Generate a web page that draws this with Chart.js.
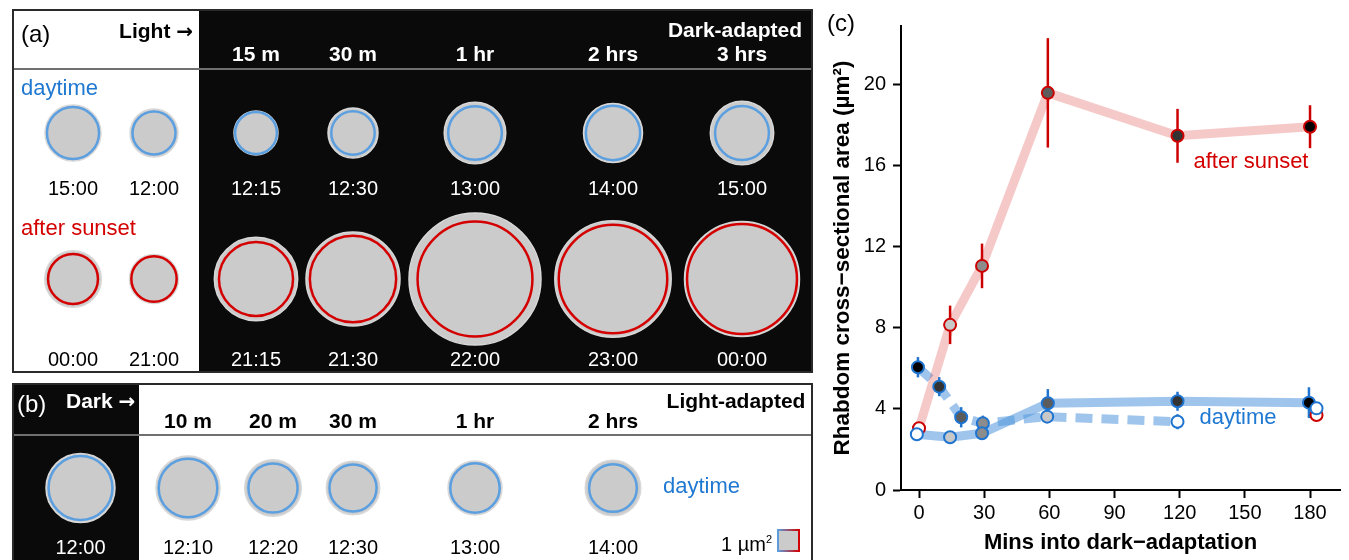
<!DOCTYPE html>
<html>
<head>
<meta charset="utf-8">
<title>Rhabdom cross-sectional area</title>
<script src="https://cdn.jsdelivr.net/npm/chart.js@4.4.1/dist/chart.umd.min.js"></script>
<style>
  body { margin: 0; background: #fff; }
  #page { position: relative; width: 1349px; height: 560px; overflow: hidden; font-family: "Liberation Sans", Arial, sans-serif; }
  .abs { position: absolute; box-sizing: border-box; }
  .t { position: absolute; white-space: nowrap; line-height: 1; color: #000; }
  .hd { font-weight: bold; font-size: 21px; }
  .tm { font-size: 20px; }
  .tag { font-size: 24px; }
  .grp { font-size: 22px; }
  .w { color: #fff; }
  .blue { color: #1f78d1; }
  .red { color: #d40000; }
  .arr { font-family: "DejaVu Sans", sans-serif; font-weight: bold; font-size: 20px; }
  canvas { position: absolute; }
</style>
</head>
<body>
<div id="page">
  <!-- panel (a) frame -->
  <div class="abs" style="left:12px; top:9px; width:801px; height:364px; border:2px solid #2a2a2a; background:#fff;"></div>
  <div class="abs" style="left:199px; top:11px; width:612px; height:360px; background:#0a0a0a;"></div>
  <div class="abs" style="left:14px; top:68px; width:797px; height:2px; background:#707070;"></div>
  <!-- panel (b) frame -->
  <div class="abs" style="left:12px; top:383px; width:801px; height:200px; border:2px solid #2a2a2a; background:#fff;"></div>
  <div class="abs" style="left:14px; top:385px; width:125px; height:200px; background:#0a0a0a;"></div>
  <div class="abs" style="left:14px; top:434px; width:797px; height:2px; background:#707070;"></div>
  <!-- 1 µm² scale square -->
  <div class="abs" style="left:777px; top:529px; width:23px; height:23px; background:#cbcbcb; border:2px solid; border-image:linear-gradient(to right, #5b9fe0, #d40000) 1;"></div>

  <canvas id="circles" width="820" height="560" style="left:0; top:0;"></canvas>
  <canvas id="chartC" width="529" height="560" style="left:820px; top:0;"></canvas>
</div>

<script>
// ---------- data (µm²) ----------
const xTicks = [0, 30, 60, 90, 120, 150, 180];
const yTicks = [0, 4, 8, 12, 16, 20];

// dark-adapted, after sunset (x = minutes as plotted)
const sunsetX = [0, 14.3, 29, 59.3, 119, 180];
const sunsetMean = [3.05, 8.15, 11.06, 19.6, 17.48, 17.93];
const sunsetErr = [0.3, 0.95, 1.1, 2.7, 1.33, 1.06];

// dark-adapted, daytime
const dayDarkX = [-1, 14.3, 29, 59.3, 119, 179.5];
const dayDarkMean = [2.75, 2.6, 2.8, 4.28, 4.38, 4.31];
const dayDarkErr = [0.15, 0.15, 0.2, 0.7, 0.47, 0.76];

// light-adapted, daytime
const dayLightX = [-0.5, 9.3, 19.4, 29.4, 59, 119];
const dayLightMean = [6.06, 5.1, 3.59, 3.29, 3.62, 3.37];
const dayLightErr = [0.5, 0.47, 0.5, 0.38, 0.2, 0.37];

// still in light at the end of the series
const refX = 183;
const dayInLight = 4.03;     // 15:00
const sunsetInLight = 3.7;   // 00:00

// outer grey disc of each drawn rhabdom
const dayOuterA = [4.66, 3.42, 2.87, 3.71, 5.63, 5.17, 5.97];
const sunsetOuterA = [4.76, 3.56, 10.33, 13.12, 25.87, 20.11, 19.63];
const dayOuterB = [7.07, 6.08, 4.76, 4.23, 4.33, 4.59];

const timesDayA = ['15:00', '12:00', '12:15', '12:30', '13:00', '14:00', '15:00'];
const timesSunsetA = ['00:00', '21:00', '21:15', '21:30', '22:00', '23:00', '00:00'];
const timesB = ['12:00', '12:10', '12:20', '12:30', '13:00', '14:00'];
const headA = ['15 m', '30 m', '1 hr', '2 hrs', '3 hrs'];
const headB = ['10 m', '20 m', '30 m', '1 hr', '2 hrs'];

// ---------- layout ----------
const colsA = [73, 154, 256, 353, 475, 613, 742];
const colsB = [80.5, 188, 273, 353, 475, 613];
const rowDayA = 133, rowSunsetA = 279, rowB = 488;
const PX_PER_UM2 = 23 * 23;
const rad = a => Math.sqrt(a * PX_PER_UM2 / Math.PI);

const BLUE = '#1f74cf', RED = '#cc0000';
const RING_BLUE = '#5b9fe0', RING_RED = '#d40000';

Chart.defaults.font.family = '"Liberation Sans", Arial, sans-serif';
Chart.defaults.color = '#000';

const page = document.getElementById('page');
function put(text, x, y, cls, align) {
  const d = document.createElement('div');
  d.className = 't ' + cls;
  d.innerHTML = text;
  d.style.left = x + 'px';
  d.style.top = y + 'px';
  if (align === 'left') d.style.transform = 'translate(0,-50%)';
  else if (align === 'right') d.style.transform = 'translate(-100%,-50%)';
  else d.style.transform = 'translate(-50%,-50%)';
  page.appendChild(d);
}

// panel (a) text
put('(a)', 21, 34, 'tag', 'left');
put('Light <span class="arr">→</span>', 193, 30, 'hd', 'right');
put('Dark-adapted', 735, 29, 'hd w');
headA.forEach((h, i) => put(h, colsA[i + 2], 53, 'hd w'));
put('daytime', 21, 88, 'grp blue', 'left');
put('after sunset', 21, 228, 'grp red', 'left');
timesDayA.forEach((t, i) => put(t, colsA[i], 188, 'tm' + (i > 1 ? ' w' : '')));
timesSunsetA.forEach((t, i) => put(t, colsA[i], 359, 'tm' + (i > 1 ? ' w' : '')));

// panel (b) text
put('(b)', 17, 404, 'tag w', 'left');
put('Dark <span class="arr">→</span>', 66, 400, 'hd w', 'left');
put('Light-adapted', 736, 400, 'hd');
headB.forEach((h, i) => put(h, colsB[i + 1], 420, 'hd'));
put('daytime', 663, 486, 'grp blue', 'left');
timesB.forEach((t, i) => put(t, colsB[i], 547, 'tm' + (i === 0 ? ' w' : '')));
put('1 µm<sup style="font-size:11px">2</sup>', 772, 544, 'tm', 'right');

// panel (c) text
put('(c)', 827, 23, 'tag', 'left');
put('after sunset', 1251, 161, 'grp red');
put('daytime', 1238, 417, 'grp blue');

// ---------- panels (a) and (b): rhabdom discs ----------
const ringPts = [], ringCols = [], outerPts = [];
function addRow(cols, y, means, outers, col) {
  cols.forEach((cx, i) => {
    ringPts.push({ x: cx, y: y, r: rad(means[i]) });
    ringCols.push(col);
    outerPts.push({ x: cx, y: y, r: rad(outers[i]) });
  });
}
addRow(colsA, rowDayA, [dayInLight, ...dayDarkMean], dayOuterA, RING_BLUE);
addRow(colsA, rowSunsetA, [sunsetInLight, ...sunsetMean], sunsetOuterA, RING_RED);
addRow(colsB, rowB, dayLightMean, dayOuterB, RING_BLUE);

new Chart(document.getElementById('circles'), {
  type: 'bubble',
  data: {
    datasets: [
      { data: ringPts, backgroundColor: '#cbcbcb', borderColor: ringCols, borderWidth: 2.5, clip: false },
      { data: outerPts, backgroundColor: '#cbcbcb', borderColor: '#d8d8d8', borderWidth: 1.5, clip: false }
    ]
  },
  options: {
    responsive: false, animation: false, events: [],
    layout: { autoPadding: false, padding: 0 },
    plugins: { legend: { display: false }, tooltip: { enabled: false } },
    scales: {
      x: { type: 'linear', display: false, min: 0, max: 820 },
      y: { type: 'linear', display: false, min: 0, max: 560, reverse: true }
    }
  }
});

// ---------- panel (c) ----------
const shadesDark = ['#ffffff', '#c8c8c8', '#8c8c8c', '#5c5c5c', '#333333', '#000000'];
const shadesLight = shadesDark.slice().reverse();
const pts = (xs, ys) => xs.map((x, i) => ({ x: x, y: ys[i] }));

const errSets = [
  { xs: sunsetX, ys: sunsetMean, err: sunsetErr, color: RED },
  { xs: dayLightX, ys: dayLightMean, err: dayLightErr, color: BLUE },
  { xs: dayDarkX, ys: dayDarkMean, err: dayDarkErr, color: BLUE }
];

const errorBars = {
  id: 'errorBars',
  // drawn after the lines, before the first point dataset (index 4)
  beforeDatasetDraw(chart, args) {
    if (args.index !== 4) return;
    const { ctx, scales: { x, y } } = chart;
    ctx.save();
    ctx.lineWidth = 2.5;
    errSets.forEach(s => {
      ctx.strokeStyle = s.color;
      s.xs.forEach((xv, i) => {
        const px = x.getPixelForValue(xv);
        ctx.beginPath();
        ctx.moveTo(px, y.getPixelForValue(s.ys[i] - s.err[i]));
        ctx.lineTo(px, y.getPixelForValue(s.ys[i] + s.err[i]));
        ctx.stroke();
      });
    });
    ctx.restore();
  }
};

const pointSet = (data, fill, border) => ({
  data: data, showLine: false, pointRadius: 6, pointBorderWidth: 2,
  pointBackgroundColor: fill, pointBorderColor: border
});
const lineSet = (data, color, dash) => ({
  data: data, showLine: true, pointRadius: 0, borderColor: color, borderWidth: 9,
  borderDash: dash, borderCapStyle: 'butt', borderJoinStyle: 'round', fill: false
});

new Chart(document.getElementById('chartC'), {
  type: 'scatter',
  data: {
    datasets: [
      pointSet([{ x: refX, y: dayInLight }], '#ffffff', BLUE),
      pointSet(pts(dayDarkX, dayDarkMean), shadesDark, BLUE),
      pointSet(pts(dayLightX, dayLightMean), shadesLight, BLUE),
      pointSet([{ x: refX, y: sunsetInLight }], '#ffffff', RED),
      pointSet(pts(sunsetX, sunsetMean), shadesDark, RED),
      lineSet(pts(sunsetX, sunsetMean), 'rgba(226,88,88,0.32)', []),
      lineSet(pts(dayLightX, dayLightMean), 'rgba(80,150,220,0.55)', [17, 9]),
      lineSet(pts(dayDarkX, dayDarkMean), 'rgba(80,150,220,0.55)', [])
    ]
  },
  options: {
    responsive: false, animation: false, events: [],
    layout: { padding: { left: 0, right: 9, top: 26, bottom: 0 } },
    plugins: { legend: { display: false }, tooltip: { enabled: false } },
    scales: {
      x: {
        type: 'linear', min: -8.3, max: 193.8,
        afterBuildTicks: s => { s.ticks = xTicks.map(v => ({ value: v })); },
        afterFit: s => { s.height = 70; },
        grid: { drawOnChartArea: false, drawTicks: true, tickLength: 8, tickWidth: 2, tickColor: '#000' },
        border: { display: true, color: '#000', width: 2 },
        ticks: { color: '#000', font: { size: 20 }, padding: 3 },
        title: { display: true, text: 'Mins into dark−adaptation', color: '#000',
                 font: { size: 22, weight: 'bold' }, padding: { top: 0, bottom: 4 } }
      },
      y: {
        type: 'linear', min: 0, max: 22.9,
        afterBuildTicks: s => { s.ticks = yTicks.map(v => ({ value: v })); },
        afterFit: s => { s.width = 81; },
        grid: { drawOnChartArea: false, drawTicks: true, tickLength: 8, tickWidth: 2, tickColor: '#000' },
        border: { display: true, color: '#000', width: 2 },
        ticks: { color: '#000', font: { size: 20 }, padding: 7 },
        title: { display: true, text: 'Rhabdom cross−sectional area (µm²)', color: '#000',
                 font: { size: 22.5, weight: 'bold' }, padding: { top: 9, bottom: 0 } }
      }
    }
  },
  plugins: [errorBars]
});
</script>
</body>
</html>
